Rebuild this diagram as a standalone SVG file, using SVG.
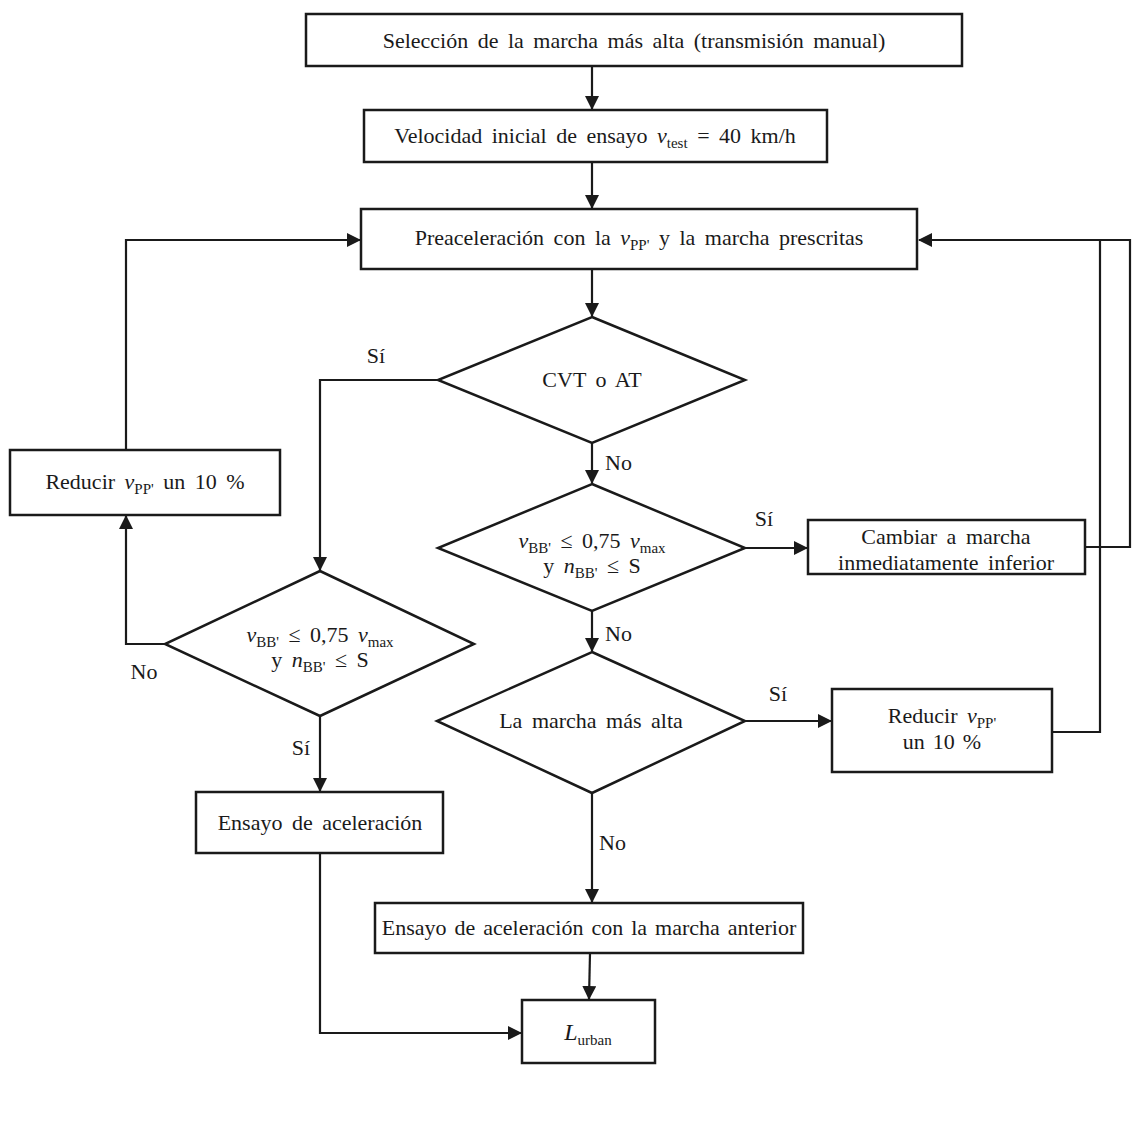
<svg xmlns="http://www.w3.org/2000/svg" width="1135" height="1135" viewBox="0 0 1135 1135">
<style>
.box{fill:#fff;stroke:#1a1a1a;stroke-width:2.5}
.ln{fill:none;stroke:#1a1a1a;stroke-width:2.2}
text{font-family:"Liberation Serif","DejaVu Serif",serif;font-size:22px;fill:#1a1a1a;word-spacing:4px}
.c{text-anchor:middle}
.i{font-style:italic}
.s{font-size:15px}
.t{word-spacing:2.5px}
</style>
<defs>
<marker id="ah" viewBox="0 0 14 14" refX="13" refY="7" markerWidth="14" markerHeight="14" markerUnits="userSpaceOnUse" orient="auto">
<path d="M0,0 L14,7 L0,14 Z" fill="#1a1a1a"/>
</marker>
</defs>
<rect width="1135" height="1135" fill="#fff"/>
<g id="connectors">
<path class="ln" d="M592,66 V109" marker-end="url(#ah)"/>
<path class="ln" d="M592,162 V208" marker-end="url(#ah)"/>
<path class="ln" d="M592,269 V316" marker-end="url(#ah)"/>
<path class="ln" d="M438,380 H320 V570" marker-end="url(#ah)"/>
<path class="ln" d="M592,443 V483" marker-end="url(#ah)"/>
<path class="ln" d="M745,548 H807" marker-end="url(#ah)"/>
<path class="ln" d="M1085,547 H1130 V240 H919" marker-end="url(#ah)"/>
<path class="ln" d="M592,611 V651" marker-end="url(#ah)"/>
<path class="ln" d="M745,721 H831" marker-end="url(#ah)"/>
<path class="ln" d="M1052,732 H1100 V240"/>
<path class="ln" d="M592,793 V902" marker-end="url(#ah)"/>
<path class="ln" d="M590,953 L589,999" marker-end="url(#ah)"/>
<path class="ln" d="M320,716 V791" marker-end="url(#ah)"/>
<path class="ln" d="M320,853 V1033 H521" marker-end="url(#ah)"/>
<path class="ln" d="M165,644 H126 V516" marker-end="url(#ah)"/>
<path class="ln" d="M126,450 V240 H360" marker-end="url(#ah)"/>
<text x="376" y="363" class="c">Sí</text>
<text x="605" y="470">No</text>
<text x="764" y="526" class="c">Sí</text>
<text x="605" y="641">No</text>
<text x="778" y="701" class="c">Sí</text>
<text x="599" y="850">No</text>
<text x="301" y="755" class="c">Sí</text>
<text x="144" y="679" class="c">No</text>
</g>
<g id="n1">
<rect class="box" x="306" y="14" width="656" height="52"/>
<text x="634" y="48" class="c">Selección de la marcha más alta (transmisión manual)</text>
</g>
<g id="n2">
<rect class="box" x="364" y="110" width="463" height="52"/>
<text x="595" y="143" class="c">Velocidad inicial de ensayo <tspan class="i">v</tspan><tspan class="s" dy="5">test</tspan><tspan dy="-5"> = 40 km/h</tspan></text>
</g>
<g id="n3">
<rect class="box" x="361" y="209" width="556" height="60"/>
<text x="639" y="245" class="c">Preaceleración con la <tspan class="i">v</tspan><tspan class="s" dy="5">PP'</tspan><tspan dy="-5"> y la marcha prescritas</tspan></text>
</g>
<g id="d1">
<polygon class="box" points="592,317 745,380 592,443 438,380"/>
<text x="592" y="387" class="c">CVT o AT</text>
</g>
<g id="d2">
<polygon class="box" points="592,484 745,548 592,611 438,548"/>
<text x="592" y="548" class="c"><tspan class="i">v</tspan><tspan class="s" dy="5">BB'</tspan><tspan dy="-5"> ≤ 0,75 </tspan><tspan class="i">v</tspan><tspan class="s" dy="5">max</tspan></text>
<text x="592" y="573" class="c">y <tspan class="i">n</tspan><tspan class="s" dy="5">BB'</tspan><tspan dy="-5"> ≤ S</tspan></text>
</g>
<g id="n4">
<rect class="box" x="808" y="520" width="277" height="54"/>
<text x="946" y="544" class="c">Cambiar a marcha</text>
<text x="946" y="570" class="c">inmediatamente inferior</text>
</g>
<g id="d4">
<polygon class="box" points="592,652 745,721 592,793 437,721"/>
<text x="591" y="728" class="c">La marcha más alta</text>
</g>
<g id="n5">
<rect class="box" x="832" y="689" width="220" height="83"/>
<text x="942" y="723" class="c">Reducir <tspan class="i">v</tspan><tspan class="s" dy="5">PP'</tspan></text>
<text x="942" y="749" class="c t">un 10 %</text>
</g>
<g id="n6">
<rect class="box" x="375" y="903" width="428" height="50"/>
<text x="589" y="935" class="c t">Ensayo de aceleración con la marcha anterior</text>
</g>
<g id="n7">
<rect class="box" x="522" y="1000" width="133" height="63"/>
<text x="588" y="1040" class="c"><tspan class="i" font-size="24">L</tspan><tspan class="s" dy="5">urban</tspan></text>
</g>
<g id="d3">
<polygon class="box" points="320,571 474,644 320,716 165,644"/>
<text x="320" y="642" class="c"><tspan class="i">v</tspan><tspan class="s" dy="5">BB'</tspan><tspan dy="-5"> ≤ 0,75 </tspan><tspan class="i">v</tspan><tspan class="s" dy="5">max</tspan></text>
<text x="320" y="667" class="c">y <tspan class="i">n</tspan><tspan class="s" dy="5">BB'</tspan><tspan dy="-5"> ≤ S</tspan></text>
</g>
<g id="n8">
<rect class="box" x="196" y="792" width="247" height="61"/>
<text x="320" y="830" class="c">Ensayo de aceleración</text>
</g>
<g id="n9">
<rect class="box" x="10" y="450" width="270" height="65"/>
<text x="145" y="489" class="c">Reducir <tspan class="i">v</tspan><tspan class="s" dy="5">PP'</tspan><tspan dy="-5"> un 10 %</tspan></text>
</g>
</svg>
